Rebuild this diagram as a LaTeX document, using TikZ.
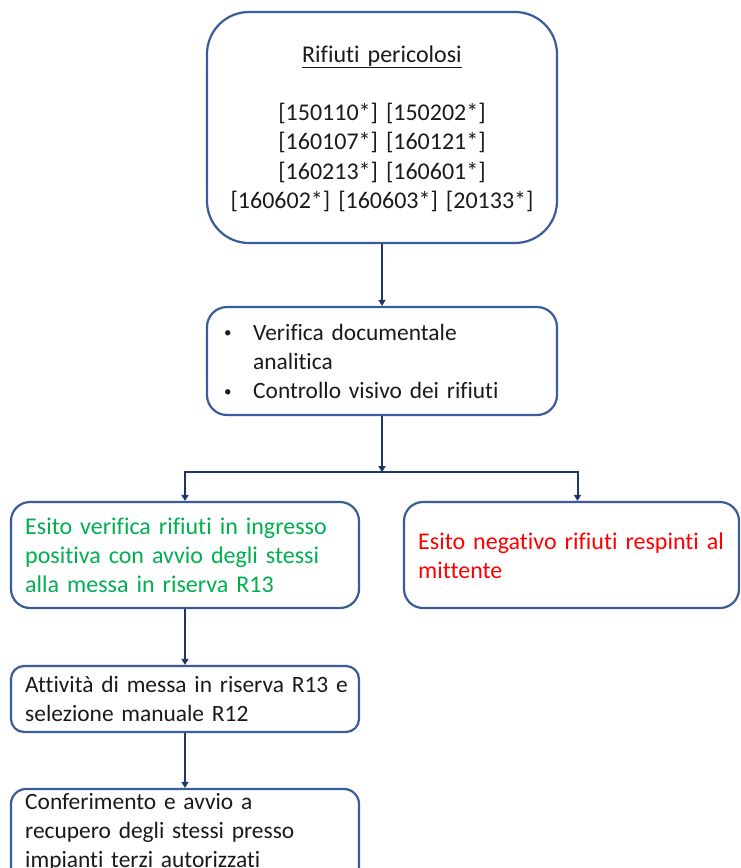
\documentclass[tikz,border=0pt]{standalone}
\usepackage{fontspec}
\setmainfont{Carlito}[Ligatures={NoCommon}]
\usetikzlibrary{arrows.meta}

\definecolor{frameblue}{HTML}{3A5C99}
\definecolor{linknavy}{HTML}{1F3468}
\definecolor{okgreen}{HTML}{00B050}
\definecolor{kored}{HTML}{FF0000}
\definecolor{ink}{HTML}{1A1A1A}

\newcommand\wcode[1]{[#1*]}
\newcommand\bul{\makebox[32pt][l]{\hspace*{3pt}\raisebox{2.5pt}{\fontsize{15}{15}\selectfont\textbullet}}}

\begin{document}
\begin{tikzpicture}[x=1pt,y=-1pt,
  box/.style={draw=frameblue, line width=2.2pt, fill=white, inner sep=0pt},
  txt/.style={font={\fontsize{24}{29.3}\selectfont}, text=ink, inner sep=0pt,
              text width=340pt, align=left, anchor=base west},
  smalltxt/.style={txt, font={\fontsize{23.4}{29.3}\selectfont}},
  link/.style={draw=linknavy, line width=2pt, -{Triangle[width=7pt,length=6pt]}}]

  \useasboundingbox (0,0) rectangle (741,868);
  \clip (0,0) rectangle (741,868);
  \fill[white] (0,0) rectangle (741,868);

  % boxes
  \node[box, minimum width=350pt, minimum height=231pt, rounded corners=42pt] (waste) at (382,127.5) {};
  \node[box, minimum width=350pt, minimum height=108pt, rounded corners=20pt] (check) at (382,361) {};
  \node[box, minimum width=348pt, minimum height=106pt, rounded corners=19pt] (accept) at (185,555) {};
  \node[box, minimum width=335pt, minimum height=106pt, rounded corners=19pt] (reject) at (571.5,555) {};
  \node[box, minimum width=348pt, minimum height=66pt, rounded corners=13pt] (store) at (185,699) {};
  \node[box, minimum width=348pt, minimum height=111pt, rounded corners=15pt] (ship) at (185,844.5) {};

  % texts
  \node[txt, align=center, anchor=base, text width=340pt] (wastetext) at (382,62)
    {\underline{Rifiuti pericolosi}\\[29.3pt]
     \wcode{150110} \wcode{150202}\\
     \wcode{160107} \wcode{160121}\\
     \wcode{160213} \wcode{160601}\\
     \wcode{160602} \wcode{160603} \wcode{20133}};
  \node[smalltxt] (checktext) at (221,340)
    {\bul Verifica documentale\\
     \hspace*{32pt}analitica\\
     \bul Controllo visivo dei rifiuti};
  \node[txt, text=okgreen] (accepttext) at (25,534)
    {Esito verifica rifiuti in ingresso\\
     positiva con avvio degli stessi\\
     alla messa in riserva R13};
  \node[txt, text=kored, text width=318pt] (rejecttext) at (418,549)
    {Esito negativo rifiuti respinti al\\
     mittente};
  \node[smalltxt] (storetext) at (25,692.5)
    {Attività di messa in riserva R13 e\\
     selezione manuale R12};
  \node[smalltxt] (shiptext) at (25,809)
    {Conferimento e avvio a\\
     recupero degli stessi presso\\
     impianti terzi autorizzati};

  % connectors
  \path (check.south) ++(0,56) coordinate (split);
  \draw[link] (waste.south) -- (check.north);
  \draw[link] (check.south) -- (split);
  \draw[link] (split) -| (accept.north);
  \draw[link] (split) -| ([xshift=6pt]reject.north);
  \draw[link] (accept.south) -- (store.north);
  \draw[link] (store.south) -- (ship.north);
\end{tikzpicture}
\end{document}
